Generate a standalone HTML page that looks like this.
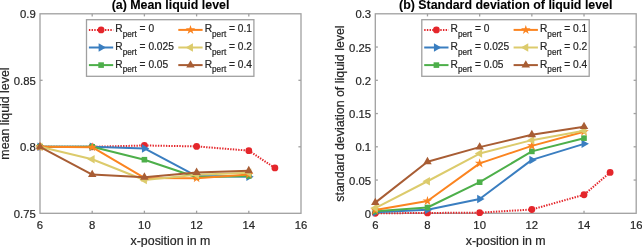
<!DOCTYPE html>
<html><head><meta charset="utf-8"><style>
html,body{margin:0;padding:0;background:#fff;}
svg{display:block;will-change:transform;}
text{font-family:'Liberation Sans', sans-serif;fill:#262626;stroke:#262626;stroke-width:0.2px;}
.t{font-size:11.3px;}
.lg{font-size:10.2px;}
.sub{font-size:8.2px;}
.lb{font-size:12.4px;}
.ti{font-size:12.4px;font-weight:bold;fill:#000;stroke:#000;stroke-width:0.1px;}
</style></head><body>
<svg width="642" height="247" viewBox="0 0 642 247">
<rect width="642" height="247" fill="#fff"/>
<rect x="40.0" y="13.8" width="261.00" height="199.50" fill="none" stroke="#a0a0a0" stroke-width="1.3"/>
<line x1="92.20" y1="213.3" x2="92.20" y2="210.70000000000002" stroke="#a0a0a0" stroke-width="1.3"/>
<line x1="92.20" y1="13.8" x2="92.20" y2="16.400000000000002" stroke="#a0a0a0" stroke-width="1.3"/>
<line x1="144.40" y1="213.3" x2="144.40" y2="210.70000000000002" stroke="#a0a0a0" stroke-width="1.3"/>
<line x1="144.40" y1="13.8" x2="144.40" y2="16.400000000000002" stroke="#a0a0a0" stroke-width="1.3"/>
<line x1="196.60" y1="213.3" x2="196.60" y2="210.70000000000002" stroke="#a0a0a0" stroke-width="1.3"/>
<line x1="196.60" y1="13.8" x2="196.60" y2="16.400000000000002" stroke="#a0a0a0" stroke-width="1.3"/>
<line x1="248.80" y1="213.3" x2="248.80" y2="210.70000000000002" stroke="#a0a0a0" stroke-width="1.3"/>
<line x1="248.80" y1="13.8" x2="248.80" y2="16.400000000000002" stroke="#a0a0a0" stroke-width="1.3"/>
<line x1="40.0" y1="146.80" x2="42.6" y2="146.80" stroke="#a0a0a0" stroke-width="1.3"/>
<line x1="301.0" y1="146.80" x2="298.4" y2="146.80" stroke="#a0a0a0" stroke-width="1.3"/>
<line x1="40.0" y1="80.30" x2="42.6" y2="80.30" stroke="#a0a0a0" stroke-width="1.3"/>
<line x1="301.0" y1="80.30" x2="298.4" y2="80.30" stroke="#a0a0a0" stroke-width="1.3"/>
<text x="40.00" y="229.2" text-anchor="middle" class="t">6</text>
<text x="92.20" y="229.2" text-anchor="middle" class="t">8</text>
<text x="144.40" y="229.2" text-anchor="middle" class="t">10</text>
<text x="196.60" y="229.2" text-anchor="middle" class="t">12</text>
<text x="248.80" y="229.2" text-anchor="middle" class="t">14</text>
<text x="301.00" y="229.2" text-anchor="middle" class="t">16</text>
<text x="35.80" y="217.80" text-anchor="end" class="t">0.75</text>
<text x="35.80" y="151.30" text-anchor="end" class="t">0.8</text>
<text x="35.80" y="84.80" text-anchor="end" class="t">0.85</text>
<text x="35.80" y="18.30" text-anchor="end" class="t">0.9</text>
<polyline points="40.00,146.80 92.20,146.80 144.40,145.47 196.60,146.40 248.80,150.66 274.90,167.95" fill="none" stroke="#e4262b" stroke-width="2" stroke-dasharray="1.4,1.28" stroke-linejoin="round"/>
<circle cx="40.00" cy="146.80" r="3.4" fill="#e4262b"/>
<circle cx="92.20" cy="146.80" r="3.4" fill="#e4262b"/>
<circle cx="144.40" cy="145.47" r="3.4" fill="#e4262b"/>
<circle cx="196.60" cy="146.40" r="3.4" fill="#e4262b"/>
<circle cx="248.80" cy="150.66" r="3.4" fill="#e4262b"/>
<circle cx="274.90" cy="167.95" r="3.4" fill="#e4262b"/>
<polyline points="40.00,146.80 92.20,146.80 144.40,148.40 196.60,176.06 248.80,176.86" fill="none" stroke="#3a7ec0" stroke-width="2" stroke-linejoin="round"/>
<polygon points="44.90,146.80 37.55,142.56 37.55,151.04" fill="#3a7ec0"/>
<polygon points="97.10,146.80 89.75,142.56 89.75,151.04" fill="#3a7ec0"/>
<polygon points="149.30,148.40 141.95,144.15 141.95,152.64" fill="#3a7ec0"/>
<polygon points="201.50,176.06 194.15,171.82 194.15,180.30" fill="#3a7ec0"/>
<polygon points="253.70,176.86 246.35,172.61 246.35,181.10" fill="#3a7ec0"/>
<polyline points="40.00,146.80 92.20,146.80 144.40,159.70 196.60,177.26 248.80,175.93" fill="none" stroke="#4daf4a" stroke-width="2" stroke-linejoin="round"/>
<rect x="37.20" y="144.00" width="5.60" height="5.60" fill="#4daf4a"/>
<rect x="89.40" y="144.00" width="5.60" height="5.60" fill="#4daf4a"/>
<rect x="141.60" y="156.90" width="5.60" height="5.60" fill="#4daf4a"/>
<rect x="193.80" y="174.46" width="5.60" height="5.60" fill="#4daf4a"/>
<rect x="246.00" y="173.13" width="5.60" height="5.60" fill="#4daf4a"/>
<polyline points="40.00,146.80 92.20,147.20 144.40,177.92 196.60,178.19 248.80,174.46" fill="none" stroke="#fb8420" stroke-width="2" stroke-linejoin="round"/>
<polygon points="40.00,141.80 41.12,145.25 44.76,145.25 41.82,147.39 42.94,150.85 40.00,148.71 37.06,150.85 38.18,147.39 35.24,145.25 38.88,145.25" fill="#fb8420"/>
<polygon points="92.20,142.20 93.32,145.65 96.96,145.65 94.02,147.79 95.14,151.24 92.20,149.11 89.26,151.24 90.38,147.79 87.44,145.65 91.08,145.65" fill="#fb8420"/>
<polygon points="144.40,172.92 145.52,176.38 149.16,176.38 146.22,178.51 147.34,181.97 144.40,179.83 141.46,181.97 142.58,178.51 139.64,176.38 143.28,176.38" fill="#fb8420"/>
<polygon points="196.60,173.19 197.72,176.64 201.36,176.64 198.42,178.78 199.54,182.23 196.60,180.10 193.66,182.23 194.78,178.78 191.84,176.64 195.48,176.64" fill="#fb8420"/>
<polygon points="248.80,169.46 249.92,172.92 253.56,172.92 250.62,175.05 251.74,178.51 248.80,176.37 245.86,178.51 246.98,175.05 244.04,172.92 247.68,172.92" fill="#fb8420"/>
<polyline points="40.00,146.80 92.20,159.30 144.40,180.05 196.60,174.86 248.80,172.87" fill="none" stroke="#dccb6c" stroke-width="2" stroke-linejoin="round"/>
<polygon points="35.10,146.80 42.45,142.56 42.45,151.04" fill="#dccb6c"/>
<polygon points="87.30,159.30 94.65,155.06 94.65,163.55" fill="#dccb6c"/>
<polygon points="139.50,180.05 146.85,175.81 146.85,184.29" fill="#dccb6c"/>
<polygon points="191.70,174.86 199.05,170.62 199.05,179.11" fill="#dccb6c"/>
<polygon points="243.90,172.87 251.25,168.62 251.25,177.11" fill="#dccb6c"/>
<polyline points="40.00,146.80 92.20,174.60 144.40,177.26 196.60,172.47 248.80,170.74" fill="none" stroke="#a85d34" stroke-width="2" stroke-linejoin="round"/>
<polygon points="40.00,141.90 35.76,149.25 44.24,149.25" fill="#a85d34"/>
<polygon points="92.20,169.70 87.96,177.05 96.44,177.05" fill="#a85d34"/>
<polygon points="144.40,172.36 140.16,179.71 148.64,179.71" fill="#a85d34"/>
<polygon points="196.60,167.57 192.36,174.92 200.84,174.92" fill="#a85d34"/>
<polygon points="248.80,165.84 244.56,173.19 253.04,173.19" fill="#a85d34"/>
<rect x="86.50" y="19.7" width="167.4" height="56.6" fill="#fff" stroke="#a0a0a0" stroke-width="1.3"/>
<polyline points="88.90,29.90 113.20,29.90" fill="none" stroke="#e4262b" stroke-width="2" stroke-dasharray="1.4,1.28" stroke-linejoin="round"/>
<circle cx="101.10" cy="29.90" r="3.4" fill="#e4262b"/>
<text x="115.30" y="32.40" class="lg">R<tspan class="sub" dy="4.7">pert</tspan><tspan dy="-4.7"> = 0</tspan></text>
<polyline points="88.90,47.50 113.20,47.50" fill="none" stroke="#3a7ec0" stroke-width="2" stroke-linejoin="round"/>
<polygon points="106.00,47.50 98.65,43.26 98.65,51.74" fill="#3a7ec0"/>
<text x="115.30" y="50.00" class="lg">R<tspan class="sub" dy="4.7">pert</tspan><tspan dy="-4.7"> = 0.025</tspan></text>
<polyline points="88.90,65.10 113.20,65.10" fill="none" stroke="#4daf4a" stroke-width="2" stroke-linejoin="round"/>
<rect x="98.30" y="62.30" width="5.60" height="5.60" fill="#4daf4a"/>
<text x="115.30" y="67.60" class="lg">R<tspan class="sub" dy="4.7">pert</tspan><tspan dy="-4.7"> = 0.05</tspan></text>
<polyline points="178.30,29.90 202.60,29.90" fill="none" stroke="#fb8420" stroke-width="2" stroke-linejoin="round"/>
<polygon points="190.50,24.90 191.62,28.35 195.26,28.35 192.32,30.49 193.44,33.95 190.50,31.81 187.56,33.95 188.68,30.49 185.74,28.35 189.38,28.35" fill="#fb8420"/>
<text x="204.70" y="32.40" class="lg">R<tspan class="sub" dy="4.7">pert</tspan><tspan dy="-4.7"> = 0.1</tspan></text>
<polyline points="178.30,47.50 202.60,47.50" fill="none" stroke="#dccb6c" stroke-width="2" stroke-linejoin="round"/>
<polygon points="185.60,47.50 192.95,43.26 192.95,51.74" fill="#dccb6c"/>
<text x="204.70" y="50.00" class="lg">R<tspan class="sub" dy="4.7">pert</tspan><tspan dy="-4.7"> = 0.2</tspan></text>
<polyline points="178.30,65.10 202.60,65.10" fill="none" stroke="#a85d34" stroke-width="2" stroke-linejoin="round"/>
<polygon points="190.50,60.20 186.26,67.55 194.74,67.55" fill="#a85d34"/>
<text x="204.70" y="67.60" class="lg">R<tspan class="sub" dy="4.7">pert</tspan><tspan dy="-4.7"> = 0.4</tspan></text>
<text x="170.50" y="9.4" text-anchor="middle" class="ti">(a) Mean liquid level</text>
<text x="170.50" y="244.5" text-anchor="middle" class="lb">x-position in m</text>
<text x="0" y="0" transform="translate(8.7,113.55) rotate(-90)" text-anchor="middle" class="lb">mean liquid level</text>
<rect x="375.3" y="13.8" width="260.90" height="199.50" fill="none" stroke="#a0a0a0" stroke-width="1.3"/>
<line x1="427.48" y1="213.3" x2="427.48" y2="210.70000000000002" stroke="#a0a0a0" stroke-width="1.3"/>
<line x1="427.48" y1="13.8" x2="427.48" y2="16.400000000000002" stroke="#a0a0a0" stroke-width="1.3"/>
<line x1="479.66" y1="213.3" x2="479.66" y2="210.70000000000002" stroke="#a0a0a0" stroke-width="1.3"/>
<line x1="479.66" y1="13.8" x2="479.66" y2="16.400000000000002" stroke="#a0a0a0" stroke-width="1.3"/>
<line x1="531.84" y1="213.3" x2="531.84" y2="210.70000000000002" stroke="#a0a0a0" stroke-width="1.3"/>
<line x1="531.84" y1="13.8" x2="531.84" y2="16.400000000000002" stroke="#a0a0a0" stroke-width="1.3"/>
<line x1="584.02" y1="213.3" x2="584.02" y2="210.70000000000002" stroke="#a0a0a0" stroke-width="1.3"/>
<line x1="584.02" y1="13.8" x2="584.02" y2="16.400000000000002" stroke="#a0a0a0" stroke-width="1.3"/>
<line x1="375.3" y1="180.05" x2="377.90000000000003" y2="180.05" stroke="#a0a0a0" stroke-width="1.3"/>
<line x1="636.2" y1="180.05" x2="633.6" y2="180.05" stroke="#a0a0a0" stroke-width="1.3"/>
<line x1="375.3" y1="146.80" x2="377.90000000000003" y2="146.80" stroke="#a0a0a0" stroke-width="1.3"/>
<line x1="636.2" y1="146.80" x2="633.6" y2="146.80" stroke="#a0a0a0" stroke-width="1.3"/>
<line x1="375.3" y1="113.55" x2="377.90000000000003" y2="113.55" stroke="#a0a0a0" stroke-width="1.3"/>
<line x1="636.2" y1="113.55" x2="633.6" y2="113.55" stroke="#a0a0a0" stroke-width="1.3"/>
<line x1="375.3" y1="80.30" x2="377.90000000000003" y2="80.30" stroke="#a0a0a0" stroke-width="1.3"/>
<line x1="636.2" y1="80.30" x2="633.6" y2="80.30" stroke="#a0a0a0" stroke-width="1.3"/>
<line x1="375.3" y1="47.05" x2="377.90000000000003" y2="47.05" stroke="#a0a0a0" stroke-width="1.3"/>
<line x1="636.2" y1="47.05" x2="633.6" y2="47.05" stroke="#a0a0a0" stroke-width="1.3"/>
<text x="375.30" y="229.2" text-anchor="middle" class="t">6</text>
<text x="427.48" y="229.2" text-anchor="middle" class="t">8</text>
<text x="479.66" y="229.2" text-anchor="middle" class="t">10</text>
<text x="531.84" y="229.2" text-anchor="middle" class="t">12</text>
<text x="584.02" y="229.2" text-anchor="middle" class="t">14</text>
<text x="636.20" y="229.2" text-anchor="middle" class="t">16</text>
<text x="371.10" y="217.80" text-anchor="end" class="t">0</text>
<text x="371.10" y="184.55" text-anchor="end" class="t">0.05</text>
<text x="371.10" y="151.30" text-anchor="end" class="t">0.1</text>
<text x="371.10" y="118.05" text-anchor="end" class="t">0.15</text>
<text x="371.10" y="84.80" text-anchor="end" class="t">0.2</text>
<text x="371.10" y="51.55" text-anchor="end" class="t">0.25</text>
<text x="371.10" y="18.30" text-anchor="end" class="t">0.3</text>
<polyline points="375.30,213.30 427.48,212.97 479.66,212.64 531.84,209.51 584.02,194.75 610.11,172.47" fill="none" stroke="#e4262b" stroke-width="2" stroke-dasharray="1.4,1.28" stroke-linejoin="round"/>
<circle cx="375.30" cy="213.30" r="3.4" fill="#e4262b"/>
<circle cx="427.48" cy="212.97" r="3.4" fill="#e4262b"/>
<circle cx="479.66" cy="212.64" r="3.4" fill="#e4262b"/>
<circle cx="531.84" cy="209.51" r="3.4" fill="#e4262b"/>
<circle cx="584.02" cy="194.75" r="3.4" fill="#e4262b"/>
<circle cx="610.11" cy="172.47" r="3.4" fill="#e4262b"/>
<polyline points="375.30,212.17 427.48,209.78 479.66,199.07 531.84,159.90 584.02,143.87" fill="none" stroke="#3a7ec0" stroke-width="2" stroke-linejoin="round"/>
<polygon points="380.20,212.17 372.85,207.93 372.85,216.41" fill="#3a7ec0"/>
<polygon points="432.38,209.78 425.03,205.53 425.03,214.02" fill="#3a7ec0"/>
<polygon points="484.56,199.07 477.21,194.83 477.21,203.31" fill="#3a7ec0"/>
<polygon points="536.74,159.90 529.39,155.66 529.39,164.14" fill="#3a7ec0"/>
<polygon points="588.92,143.87 581.57,139.63 581.57,148.12" fill="#3a7ec0"/>
<polyline points="375.30,211.37 427.48,207.51 479.66,182.18 531.84,151.39 584.02,138.16" fill="none" stroke="#4daf4a" stroke-width="2" stroke-linejoin="round"/>
<rect x="372.50" y="208.57" width="5.60" height="5.60" fill="#4daf4a"/>
<rect x="424.68" y="204.71" width="5.60" height="5.60" fill="#4daf4a"/>
<rect x="476.86" y="179.38" width="5.60" height="5.60" fill="#4daf4a"/>
<rect x="529.04" y="148.59" width="5.60" height="5.60" fill="#4daf4a"/>
<rect x="581.22" y="135.35" width="5.60" height="5.60" fill="#4daf4a"/>
<polyline points="375.30,210.11 427.48,201.00 479.66,163.36 531.84,145.87 584.02,131.70" fill="none" stroke="#fb8420" stroke-width="2" stroke-linejoin="round"/>
<polygon points="375.30,205.11 376.42,208.56 380.06,208.56 377.12,210.70 378.24,214.15 375.30,212.02 372.36,214.15 373.48,210.70 370.54,208.56 374.18,208.56" fill="#fb8420"/>
<polygon points="427.48,196.00 428.60,199.45 432.24,199.45 429.30,201.59 430.42,205.04 427.48,202.91 424.54,205.04 425.66,201.59 422.72,199.45 426.36,199.45" fill="#fb8420"/>
<polygon points="479.66,158.36 480.78,161.81 484.42,161.81 481.48,163.95 482.60,167.40 479.66,165.27 476.72,167.40 477.84,163.95 474.90,161.81 478.54,161.81" fill="#fb8420"/>
<polygon points="531.84,140.87 532.96,144.32 536.60,144.32 533.66,146.46 534.78,149.91 531.84,147.78 528.90,149.91 530.02,146.46 527.08,144.32 530.72,144.32" fill="#fb8420"/>
<polygon points="584.02,126.70 585.14,130.16 588.78,130.16 585.84,132.29 586.96,135.75 584.02,133.61 581.08,135.75 582.20,132.29 579.26,130.16 582.90,130.16" fill="#fb8420"/>
<polyline points="375.30,208.11 427.48,181.25 479.66,153.58 531.84,140.15 584.02,130.71" fill="none" stroke="#dccb6c" stroke-width="2" stroke-linejoin="round"/>
<polygon points="370.40,208.11 377.75,203.87 377.75,212.36" fill="#dccb6c"/>
<polygon points="422.58,181.25 429.93,177.00 429.93,185.49" fill="#dccb6c"/>
<polygon points="474.76,153.58 482.11,149.34 482.11,157.83" fill="#dccb6c"/>
<polygon points="526.94,140.15 534.29,135.91 534.29,144.39" fill="#dccb6c"/>
<polygon points="579.12,130.71 586.47,126.46 586.47,134.95" fill="#dccb6c"/>
<polyline points="375.30,202.66 427.48,161.70 479.66,147.13 531.84,134.76 584.02,126.65" fill="none" stroke="#a85d34" stroke-width="2" stroke-linejoin="round"/>
<polygon points="375.30,197.76 371.06,205.11 379.54,205.11" fill="#a85d34"/>
<polygon points="427.48,156.80 423.24,164.15 431.72,164.15" fill="#a85d34"/>
<polygon points="479.66,142.23 475.42,149.58 483.90,149.58" fill="#a85d34"/>
<polygon points="531.84,129.86 527.60,137.21 536.08,137.21" fill="#a85d34"/>
<polygon points="584.02,121.75 579.78,129.10 588.26,129.10" fill="#a85d34"/>
<rect x="421.80" y="19.7" width="167.4" height="56.6" fill="#fff" stroke="#a0a0a0" stroke-width="1.3"/>
<polyline points="424.20,29.90 448.50,29.90" fill="none" stroke="#e4262b" stroke-width="2" stroke-dasharray="1.4,1.28" stroke-linejoin="round"/>
<circle cx="436.40" cy="29.90" r="3.4" fill="#e4262b"/>
<text x="450.60" y="32.40" class="lg">R<tspan class="sub" dy="4.7">pert</tspan><tspan dy="-4.7"> = 0</tspan></text>
<polyline points="424.20,47.50 448.50,47.50" fill="none" stroke="#3a7ec0" stroke-width="2" stroke-linejoin="round"/>
<polygon points="441.30,47.50 433.95,43.26 433.95,51.74" fill="#3a7ec0"/>
<text x="450.60" y="50.00" class="lg">R<tspan class="sub" dy="4.7">pert</tspan><tspan dy="-4.7"> = 0.025</tspan></text>
<polyline points="424.20,65.10 448.50,65.10" fill="none" stroke="#4daf4a" stroke-width="2" stroke-linejoin="round"/>
<rect x="433.60" y="62.30" width="5.60" height="5.60" fill="#4daf4a"/>
<text x="450.60" y="67.60" class="lg">R<tspan class="sub" dy="4.7">pert</tspan><tspan dy="-4.7"> = 0.05</tspan></text>
<polyline points="513.60,29.90 537.90,29.90" fill="none" stroke="#fb8420" stroke-width="2" stroke-linejoin="round"/>
<polygon points="525.80,24.90 526.92,28.35 530.56,28.35 527.62,30.49 528.74,33.95 525.80,31.81 522.86,33.95 523.98,30.49 521.04,28.35 524.68,28.35" fill="#fb8420"/>
<text x="540.00" y="32.40" class="lg">R<tspan class="sub" dy="4.7">pert</tspan><tspan dy="-4.7"> = 0.1</tspan></text>
<polyline points="513.60,47.50 537.90,47.50" fill="none" stroke="#dccb6c" stroke-width="2" stroke-linejoin="round"/>
<polygon points="520.90,47.50 528.25,43.26 528.25,51.74" fill="#dccb6c"/>
<text x="540.00" y="50.00" class="lg">R<tspan class="sub" dy="4.7">pert</tspan><tspan dy="-4.7"> = 0.2</tspan></text>
<polyline points="513.60,65.10 537.90,65.10" fill="none" stroke="#a85d34" stroke-width="2" stroke-linejoin="round"/>
<polygon points="525.80,60.20 521.56,67.55 530.04,67.55" fill="#a85d34"/>
<text x="540.00" y="67.60" class="lg">R<tspan class="sub" dy="4.7">pert</tspan><tspan dy="-4.7"> = 0.4</tspan></text>
<text x="505.75" y="9.4" text-anchor="middle" class="ti">(b) Standard deviation of liquid level</text>
<text x="505.75" y="244.5" text-anchor="middle" class="lb">x-position in m</text>
<text x="0" y="0" transform="translate(344.4,113.55) rotate(-90)" text-anchor="middle" class="lb">standard deviation of liquid level</text>
</svg>
</body></html>
